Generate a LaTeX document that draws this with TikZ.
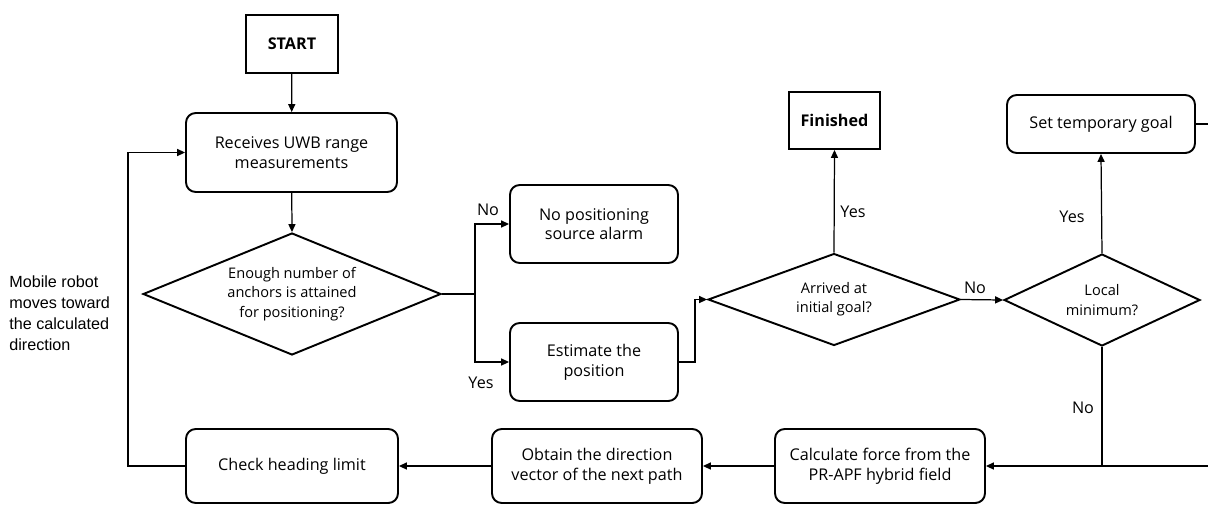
\documentclass[tikz,border=0pt]{standalone}
\usepackage{fontspec}
\setmainfont{Open Sans}
\newfontfamily\notefont{Liberation Sans}
\usetikzlibrary{shapes.geometric,arrows.meta}

\begin{document}
\begin{tikzpicture}[x=0.02cm,y=-0.02cm,
  txt/.style={font=\fontsize{9.2}{11.2}\selectfont},
  proc/.style={txt, draw, line width=1.1pt, rounded corners=5.5pt, align=center, inner sep=0pt},
  term/.style={draw, line width=1.1pt, align=center, inner sep=0pt, font=\fontsize{9.2}{11.2}\selectfont\bfseries},
  dec/.style={draw, line width=1.1pt, diamond, inner sep=0pt},
  dectext/.style={align=center, font=\fontsize{8.3}{11}\selectfont},
  conn/.style={line width=0.7pt, -{Triangle[length=4.5pt,width=4pt]}},
  plain/.style={line width=0.7pt},
  lbl/.style={txt}
]
\useasboundingbox (0,0) rectangle (1208,505);

% process boxes and terminals
\node[term, minimum width=1.84cm, minimum height=1.16cm] (start) at (292,44) {START};
\node[proc, minimum width=4.22cm, minimum height=1.58cm] (recv) at (291.5,152.5) {Receives UWB range\\measurements};
\node[proc, minimum width=3.36cm, minimum height=1.56cm] (alarm) at (594,224) {No positioning\\source alarm};
\node[proc, minimum width=3.36cm, minimum height=1.56cm] (est) at (594,362) {Estimate the\\position};
\node[term, minimum width=1.82cm, minimum height=1.14cm] (fin) at (834.5,120.5) {Finished};
\node[proc, minimum width=3.76cm, minimum height=1.16cm] (temp) at (1101,124) {Set temporary goal};
\node[proc, minimum width=4.20cm, minimum height=1.48cm] (calc) at (880,466) {Calculate force from the\\PR-APF hybrid field};
\node[proc, minimum width=4.20cm, minimum height=1.48cm] (dir) at (597,466) {Obtain the direction\\vector of the next path};
\node[proc, minimum width=4.24cm, minimum height=1.48cm] (head) at (292,466) {Check heading limit};

% decisions
\node[dec, minimum width=5.96cm, minimum height=2.44cm] (enough) at (292,294) {};
\node[dectext] at (enough) {Enough number of\\anchors is attained\\for positioning?};
\node[dec, minimum width=5.04cm, minimum height=1.84cm] (arr) at (834,299.5) {};
\node[dectext] at (arr) {Arrived at\\initial goal?};
\node[dec, minimum width=3.92cm, minimum height=1.84cm] (lmin) at (1102,300) {};
\node[dectext] at (lmin) {Local\\minimum?};

% side note
\node[anchor=west, align=left, inner sep=0pt,
      font=\notefont\fontsize{9.2}{12}\selectfont] (note) at (9,313.5)
  {Mobile robot\\moves toward\\the calculated\\direction};

% branch points and free ends
\coordinate (split) at (475,294);
\coordinate (join) at (695,362);
\coordinate (outT) at (1208,124);
\coordinate (inB) at (1208,466);
\coordinate (loopX) at (128,466);

% connectors
\draw[conn] (start) -- (recv);
\draw[conn] (recv) -- (enough.north);
\draw[plain] (enough.east) -- (split);
\draw[conn] (split) |- (alarm.west);
\draw[conn] (split) |- (est.west);
\draw[conn] (est.east) -- (join) |- (arr.west);
\draw[conn] (arr.north) -- (fin.south);
\draw[conn] (arr.east) -- (lmin.west);
\draw[conn] (lmin.north) -- (temp.south);
\draw[plain] (temp.east) -- (outT);
\draw[conn] (inB) -- (calc.east);
\draw[plain] (lmin.south) -- (lmin.south |- calc.east);
\draw[conn] (calc.west) -- (dir.east);
\draw[conn] (dir.west) -- (head.east);
\draw[conn] (head.west) -- (loopX) |- (recv.west);

% branch labels
\node[lbl] at (488,210) {No};
\node[lbl] at (481,383) {Yes};
\node[lbl] at (853,212) {Yes};
\node[lbl] at (975,288) {No};
\node[lbl] at (1072,217) {Yes};
\node[lbl] at (1083,408) {No};
\end{tikzpicture}
\end{document}
